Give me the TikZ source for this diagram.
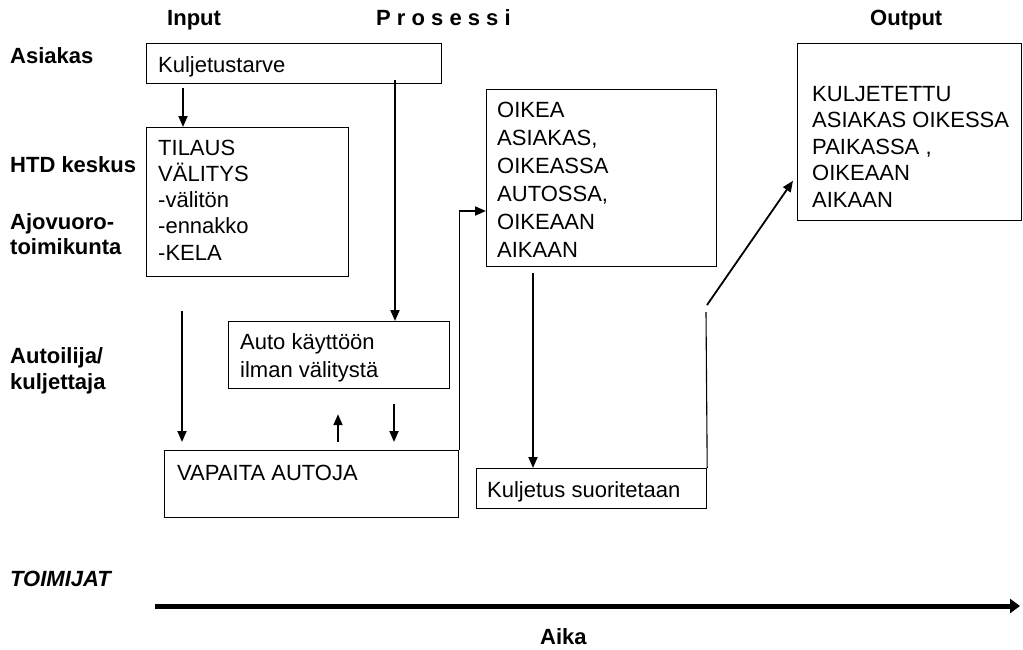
\documentclass[tikz,border=0pt]{standalone}
\usepackage{fontspec}
\setmainfont{Liberation Sans}
\usetikzlibrary{arrows.meta,calc}

\begin{document}
\begin{tikzpicture}[x=1pt,y=-1pt,
  box/.style={draw, line width=1.2pt, inner sep=0pt, anchor=north west},
  txt/.style={font=\fontsize{22}{#1}\selectfont, align=left, inner sep=0pt, anchor=base west},
  txt/.default=27,
  lbl/.style={font=\fontsize{22}{22}\selectfont\bfseries, align=left, inner sep=0pt, anchor=base west},
  arr/.style={line width=1.8pt, -{Triangle[length=11pt,width=9pt]}},
  thin/.style={line width=1.1pt}]

\useasboundingbox (0,0) rectangle (1023,649);

% column and row headings
\node[lbl] (hin)  at (167,25) {Input};
\node[lbl] (hpro) at (376,25) {P r o s e s s i};
\node[lbl] (hout) at (870,25) {Output};
\node[lbl] (rasi) at (10,63)  {Asiakas};
\node[lbl] (rhtd) at (10,172) {HTD keskus};
\node[lbl] (rajo) at (10,229) {Ajovuoro-};
\node[lbl] (rtoi) at (10,254) {toimikunta};
\node[lbl] (raut) at (10,363) {Autoilija/};
\node[lbl] (rkul) at (10,389) {kuljettaja};
\node[lbl, font=\fontsize{22}{22}\selectfont\bfseries\itshape] (toim) at (10,586) {TOIMIJAT};

% boxes
\node[box, minimum width=295pt, minimum height=40pt]  (need)  at (146,43)  {};
\node[box, minimum width=202pt, minimum height=149pt] (order) at (146,127) {};
\node[box, minimum width=221pt, minimum height=67pt]  (auto)  at (228,321) {};
\node[box, minimum width=294pt, minimum height=67pt]  (free)  at (164,450) {};
\node[box, minimum width=230pt, minimum height=177pt] (right) at (486,89)  {};
\node[box, minimum width=230pt, minimum height=40pt]  (trip)  at (476,468) {};
\node[box, minimum width=224pt, minimum height=177pt] (done)  at (797,43)  {};

% box texts (anchored on the baseline of their last line)
\node[txt] (tneed)  at (158,72)  {Kuljetustarve};
\node[txt=26.25] (torder) at (158,260) {TILAUS\\VÄLITYS\\-välitön\\-ennakko\\-KELA};
\node[txt=28] (tauto)  at (240,377) {Auto käyttöön\\ilman välitystä};
\node[txt] (tfree)  at (177,480) {VAPAITA AUTOJA};
\node[txt=28] (tright) at (497,257) {OIKEA\\ASIAKAS,\\OIKEASSA\\AUTOSSA,\\OIKEAAN\\AIKAAN};
\node[txt] (ttrip)  at (487,497) {Kuljetus suoritetaan};
\node[txt=26.5] (tdone)  at (812,207) {KULJETETTU\\ASIAKAS OIKESSA\\PAIKASSA ,\\OIKEAAN\\AIKAAN};

% connectors
\draw[arr, shorten <=4pt] ($(need.south west)+(37,0)$) -- ($(order.north west)+(37,0)$);
\draw[arr, shorten <=-4pt] ($(need.south west)+(249,0)$) -- ($(auto.north west)+(167,0)$);
\draw[arr, shorten <=34pt, shorten >=8pt] ($(order.south west)+(36,0)$) -- ($(free.north west)+(18,0)$);
\draw[arr, shorten <=8pt, shorten >=25pt] ($(free.north west)+(174,0)$) -- ($(auto.south west)+(110,0)$);
\draw[arr, shorten <=15pt, shorten >=8pt] ($(auto.south west)+(166,0)$) -- ($(free.north west)+(230,0)$);
\draw[thin] (free.north east) -- ($(free.north east)+(0,-239)$);
\draw[arr] ($(free.north east)+(0,-239)$) -- ($(right.north west)+(0,122)$);
\draw[arr, shorten <=6pt] ($(right.south west)+(47,0)$) -- ($(trip.north west)+(57,0)$);
\coordinate (riseend) at (706,312);
\coordinate (diagstart) at (707,305);
\draw[thin] (trip.north east) -- (riseend);
\draw[arr, shorten >=7pt] (diagstart) -- ($(done.north west)+(0,132)$);

% time axis
\coordinate (tstart) at (155,606);
\coordinate (tend) at (1020,606);
\draw[line width=5pt, -{Triangle[length=10pt,width=14pt]}] (tstart) -- (tend);
\node[lbl] (aika) at (540,644) {Aika};
\end{tikzpicture}
\end{document}
